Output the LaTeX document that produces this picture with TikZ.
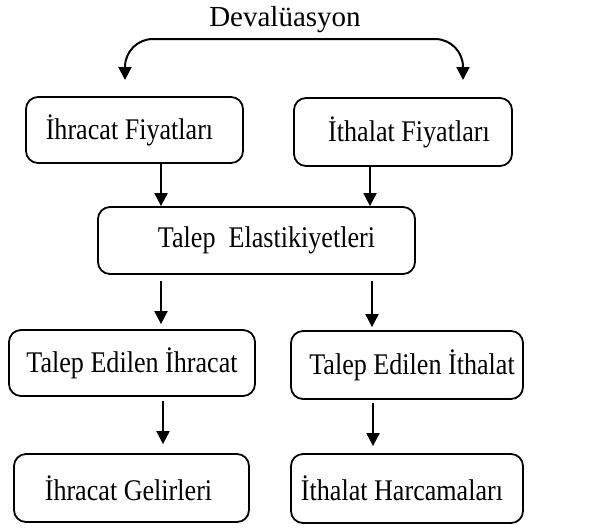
\documentclass[tikz,border=0pt]{standalone}
\usepackage{fontspec}
\setmainfont{Liberation Serif}
\newfontfamily\dar[FakeStretch=0.87]{Liberation Serif}
\usetikzlibrary{arrows.meta,positioning}

\begin{document}
\begin{tikzpicture}[x=0.5pt,y=-0.5pt, every node/.style={font=\dar\fontsize{15}{17}\selectfont},
  kutu/.style={draw,rounded corners=6pt,line width=0.9pt,inner sep=0pt},
  ok/.style={-{Triangle[length=6.5pt,width=6.5pt]},line width=1pt}]
  \useasboundingbox (0,0) rectangle (594,527);
  % devaluasyon
  \node[font=\fontsize{14.5}{17}\selectfont] (deval) at (285,20) {Devalüasyon};
  \coordinate (yay) at (294,39);
  \coordinate (solUc) at (125,80);
  \coordinate (sagUc) at (463,80);
  \draw[ok,rounded corners=14pt] (yay) -| (solUc);
  \draw[ok,rounded corners=14pt] (yay) -| (sagUc);
  % fiyatlar
  \node[kutu,minimum width=108.5pt,minimum height=33pt] (ihrFiy) at (134.5,130) {İhracat Fiyatları\hspace*{5pt}};
  \node[kutu,minimum width=109pt,minimum height=34pt] (ithFiy) at (403,132) {\hspace*{6pt}İthalat Fiyatları};
  \node[kutu,minimum width=158.5pt,minimum height=33.5pt] (elas) at (256.5,240.5) {\hspace*{10pt}Talep\ \ Elastikiyetleri};
  \draw[ok] ([xshift=13.25pt]ihrFiy.south) -- ([xshift=13.25pt]ihrFiy.south |- elas.north);
  \draw[ok] ([xshift=-16.5pt]ithFiy.south) -- ([xshift=-16.5pt]ithFiy.south |- elas.north);
  % talep edilen
  \node[kutu,minimum width=123pt,minimum height=33pt] (ihrTal) at (132,363) {Talep Edilen İhracat};
  \node[kutu,minimum width=116pt,minimum height=34pt] (ithTal) at (407,365) {\hspace*{5pt}Talep Edilen İthalat};
  \draw[ok,shorten <=3pt,shorten >=2.5pt] ([xshift=-47.75pt]elas.south) -- ([xshift=-47.75pt]elas.south |- ihrTal.north);
  \draw[ok,shorten <=3pt,shorten >=1.5pt] ([xshift=57.75pt]elas.south) -- ([xshift=57.75pt]elas.south |- ithTal.north);
  % gelir ve harcama
  \node[kutu,minimum width=117.5pt,minimum height=34pt] (ihrGel) at (131.5,488) {İhracat Gelirleri\hspace*{3pt}};
  \node[kutu,minimum width=116pt,minimum height=34.5pt] (ithHar) at (407,488.5) {İthalat Harcamaları\hspace*{5pt}};
  \draw[ok,shorten <=2pt,shorten >=4.5pt] ([xshift=15.5pt]ihrTal.south) -- ([xshift=15.5pt]ihrTal.south |- ihrGel.north);
  \draw[ok,shorten <=1.5pt,shorten >=3.5pt] ([xshift=-17pt]ithTal.south) -- ([xshift=-17pt]ithTal.south |- ithHar.north);
\end{tikzpicture}
\end{document}
